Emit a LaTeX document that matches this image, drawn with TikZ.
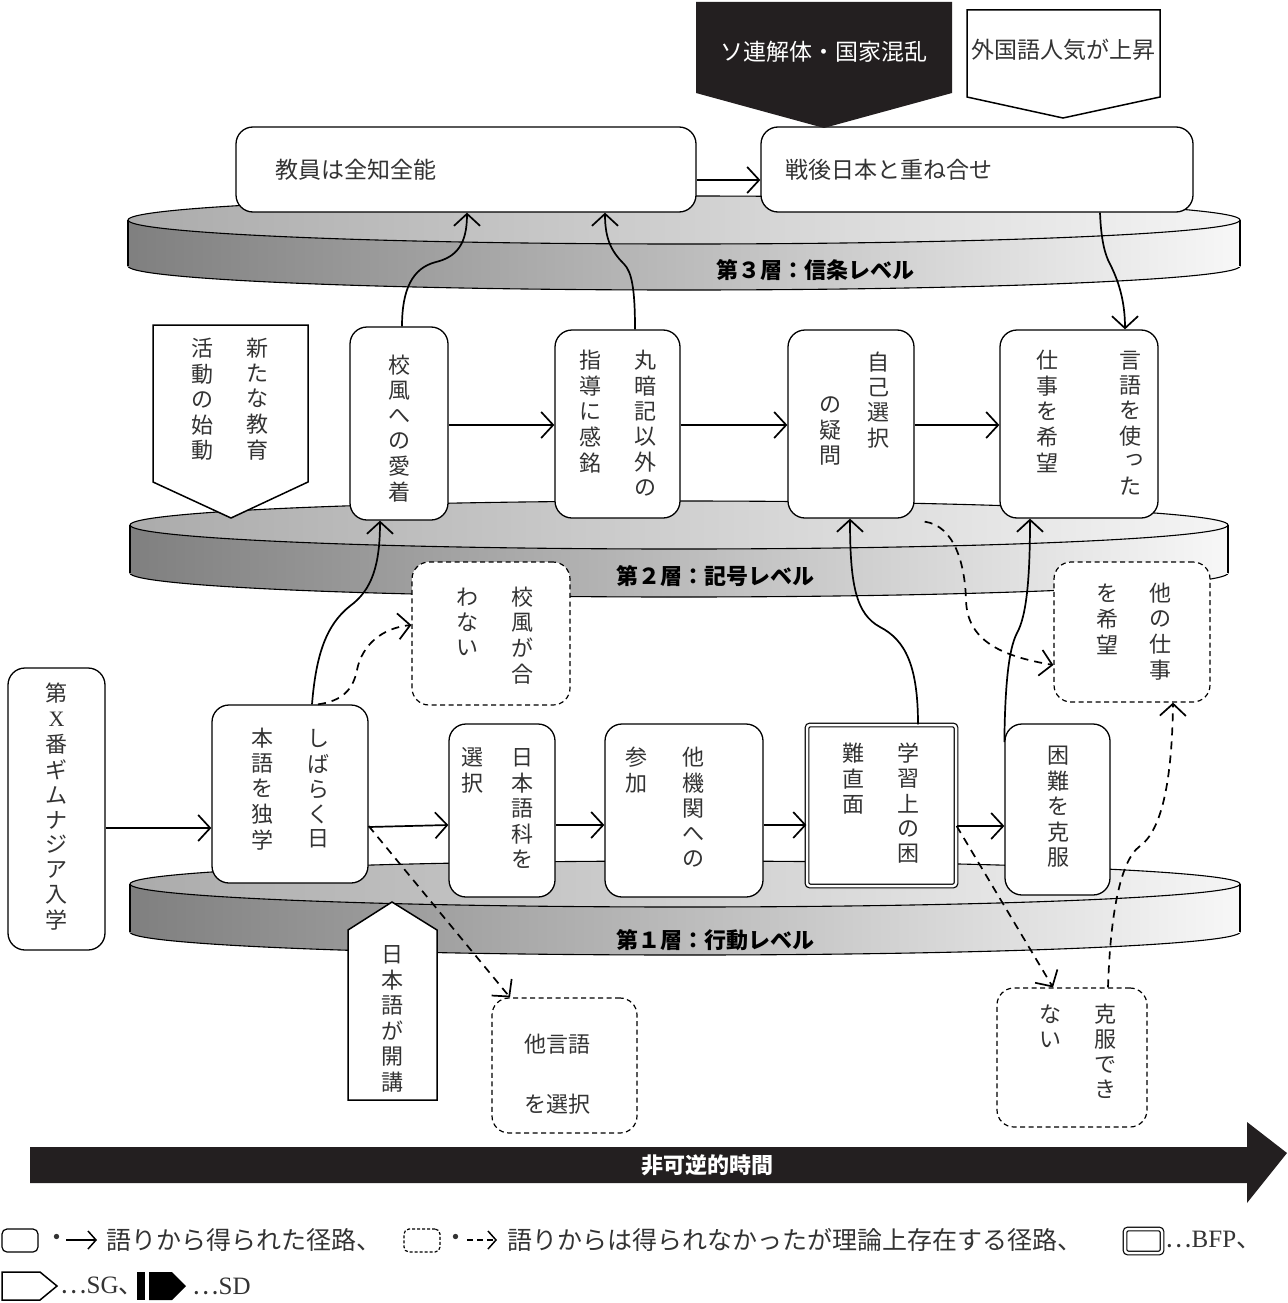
\documentclass[tikz,border=0pt]{standalone}
\usepackage{fontspec}
\setmainfont{Noto Sans CJK JP}
\newfontfamily\lat{Liberation Serif}
\usetikzlibrary{arrows.meta,calc}
\definecolor{txt}{HTML}{333333}
\definecolor{tlblack}{HTML}{231F20}
\newcommand\vc[1]{\begin{tabular}[t]{@{}c@{}}#1\end{tabular}}
\newcommand\myvf{\fontsize{22}{24.8}\selectfont}
\newcommand\myhf{\fontsize{23}{27}\selectfont}
\newcommand\mylf{\fontsize{25}{28}\selectfont}
\newcommand\mybf{\fontsize{22}{25}\selectfont\bfseries}
\newcommand\smalltsu{\makebox[0pt]{\hspace{8pt}\raisebox{4pt}{っ}}}
\newcommand\layerdisk[5]{%
  \shadedraw[band] (#1,#2+#5) ellipse [x radius=#3, y radius=#4];
  \shade[bandfill] (#1-#3,#2) rectangle (#1+#3,#2+#5);
  \draw[line width=1.1pt] (#1-#3,#2) -- (#1-#3,#2+#5) (#1+#3,#2) -- (#1+#3,#2+#5);
  \shadedraw[topface] (#1,#2) ellipse [x radius=#3, y radius=#4];
}
\begin{document}
\begin{tikzpicture}[x=1pt,y=-1pt,
  bandfill/.style={left color=black!50,right color=black!3},
  band/.style={bandfill,draw=black,line width=1.1pt},
  topface/.style={left color=black!33,right color=black!4,draw=black,line width=1.1pt},
  box/.style={draw=black,line width=1.3pt,fill=white,rounded corners=17pt,inner sep=0pt,text=txt},
  dbox/.style={box,dash pattern=on 5pt off 3.5pt,line width=1.2pt},
  bfp/.style={draw=black,line width=1.2pt,double=white,double distance=2.5pt,fill=white,rounded corners=3pt,inner sep=0pt},
  vt/.style={inner sep=0pt,text=txt,font=\myvf,anchor=north},
  arr/.style={line width=1.7pt,-{Straight Barb[length=12pt,width=26pt]}},
  darr/.style={arr,dash pattern=on 8pt off 6pt},
  lab/.style={font=\mybf,inner sep=0pt},
  sg/.style={draw=black,line width=1.5pt,fill=white,line join=miter},
  legbox/.style={draw=black,line width=1.2pt,fill=white,rounded corners=5pt,minimum width=36,minimum height=23,inner sep=0pt},
  legarr/.style={line width=1.5pt,-{Straight Barb[length=8pt,width=18pt]}},
  lt/.style={font=\mylf,anchor=west,inner sep=0pt,text=txt}
  ]
\useasboundingbox (0,0) rectangle (1287,1303);

% ---------- layers ----------
\layerdisk{684}{220}{556}{24}{46}
\layerdisk{679}{525}{549}{24}{48}
\layerdisk{685}{884}{555}{23}{48}
\node[lab] (l3) at (815,270) {第３層：信条レベル};
\node[lab] (l2) at (715,576) {第２層：記号レベル};
\node[lab] (l1) at (715,940) {第１層：行動レベル};

% ---------- top level ----------
\node[box,minimum width=460,minimum height=85,text width=382pt,align=left,inner xsep=39pt,font=\myhf] (kyoin) at (466,169.5) {教員は全知全能};
\node[box,minimum width=432,minimum height=85,text width=384pt,align=left,inner xsep=24pt,font=\myhf] (sengo) at (977,169.5) {戦後日本と重ね合せ};
\fill[tlblack] (696,2) -- (952,2) -- (952,93) -- (824,128) -- (696,93) -- cycle;
\node[font=\myhf,text=white] (t-soren) at (824,52) {ソ連解体・国家混乱};
\draw[sg] (967,10) -- (1160,10) -- (1160,97) -- (1063,118) -- (967,97) -- cycle;
\node[font=\myhf,text=txt] (t-gaikoku) at (1063,50) {外国語人気が上昇};

% ---------- second level ----------
\draw[sg] (153,325) -- (308,325) -- (308,482) -- (231,518) -- (153,482) -- cycle;
\node[vt] (t-shindo) at (229.5,338) {\vc{活\\動\\の\\始\\動}\hspace{33pt}\vc{新\\た\\な\\教\\育}};
\node[box,minimum width=98,minimum height=193] (kofu) at (399,423.5) {};
\node[vt] (t-kofu) at (399,355) {\vc{校\\風\\へ\\の\\愛\\着}};
\node[box,minimum width=125,minimum height=188] (maru) at (617.5,424) {};
\node[vt] (t-maru) at (617.5,350) {\vc{指\\導\\に\\感\\銘}\hspace{33pt}\vc{丸\\暗\\記\\以\\外\\の}};
\node[box,minimum width=126,minimum height=188] (jiko) at (851,424) {};
\node[vt] (t-jiko) at (854,352) {\raisebox{-42pt}{\vc{の\\疑\\問}}\hspace{26pt}\vc{自\\己\\選\\択}};
\node[box,minimum width=158,minimum height=188] (gengo) at (1079,424) {};
\node[vt] (t-gengo) at (1088.5,350) {\vc{仕\\事\\を\\希\\望}\hspace{61pt}\vc{言\\語\\を\\使\\\smalltsu\\た}};

% ---------- dashed middle ----------
\node[dbox,minimum width=158,minimum height=143] (awanai) at (491,633.5) {};
\node[vt] (t-awanai) at (494.5,587) {\vc{わ\\な\\い}\hspace{33pt}\vc{校\\風\\が\\合}};
\node[dbox,minimum width=156,minimum height=140] (hokashigoto) at (1132,632) {};
\node[vt] (t-hokashigoto) at (1133.5,583) {\vc{を\\希\\望}\hspace{31pt}\vc{他\\の\\仕\\事}};

% ---------- first level ----------
\node[box,minimum width=97,minimum height=282] (gym) at (56.5,809) {};
\node[vt] (t-gym) at (56.5,683) {\vc{第\\{\lat X}\\番\\ギ\\ム\\ナ\\ジ\\ア\\入\\学}};
\node[box,minimum width=156,minimum height=178] (dokugaku) at (290,794) {};
\node[vt] (t-dokugaku) at (290,728) {\vc{本\\語\\を\\独\\学}\hspace{34pt}\vc{し\\ば\\ら\\く\\日}};
\node[box,minimum width=106,minimum height=173] (nihongoka) at (502,810.5) {};
\node[vt] (t-nihongoka) at (497,747) {\vc{選\\択}\hspace{28pt}\vc{日\\本\\語\\科\\を}};
\node[box,minimum width=158,minimum height=173] (takikan) at (684,810.5) {};
\node[vt] (t-takikan) at (664.5,747) {\vc{参\\加}\hspace{35pt}\vc{他\\機\\関\\へ\\の}};
\node[bfp,minimum width=149,minimum height=161] (gakushu) at (881.5,805.5) {};
\node[vt] (t-gakushu) at (880.5,743) {\vc{難\\直\\面}\hspace{33pt}\vc{学\\習\\上\\の\\困}};
\node[box,minimum width=105,minimum height=171] (kokufuku) at (1057.5,809.5) {};
\node[vt] (t-kokufuku) at (1058,746) {\vc{困\\難\\を\\克\\服}};

% ---------- bottom ----------
\draw[sg] (392,902) -- (437,930) -- (437,1100) -- (348,1100) -- (348,930) -- cycle;
\node[vt] (t-kaiko) at (392,945) {\vc{日\\本\\語\\が\\開\\講}};
\node[dbox,minimum width=145,minimum height=135] (tagengo) at (564.5,1065.5) {};
\node[inner sep=0pt,text=txt,font=\myvf] (t-tagengo) at (557,1077) {\begin{tabular}{@{}c@{}}他言語\\[35pt]を選択\end{tabular}};
\node[dbox,minimum width=150,minimum height=139] (dekinai) at (1072,1057.5) {};
\node[vt] (t-dekinai) at (1077.5,1004) {\vc{な\\い}\hspace{33pt}\vc{克\\服\\で\\き}};

% ---------- connectors ----------
\draw[arr] (kyoin.east |- 0,180) -- (sengo.west |- 0,180);
\draw[arr] (kofu.east |- 0,425) -- (maru.west |- 0,425);
\draw[arr] (maru.east |- 0,425) -- (jiko.west |- 0,425);
\draw[arr] (jiko.east |- 0,425) -- (gengo.west |- 0,425);
\draw[arr] (gym.east |- 0,828) -- (dokugaku.west |- 0,828);
\draw[arr] (dokugaku.east |- 0,827) -- (nihongoka.west |- 0,825);
\draw[arr] (nihongoka.east |- 0,825) -- (takikan.west |- 0,825);
\draw[arr] (takikan.east |- 0,825) -- (gakushu.west |- 0,825);
\draw[arr] (gakushu.east |- 0,826) -- (kokufuku.west |- 0,826);

\draw[arr] (402,0 |- kofu.north) .. controls (402,290) and (412,268) .. (436,262) .. controls (456,257) and (467,245) .. (467,0 |- kyoin.south);
\draw[arr] (635,0 |- maru.north) .. controls (635,290) and (632,272) .. (624,264) .. controls (612,252) and (605,240) .. (605,0 |- kyoin.south);
\draw[arr] (1100,0 |- sengo.south) .. controls (1101,240) and (1105,255) .. (1110,264) .. controls (1118,280) and (1125,300) .. (1125,0 |- gengo.north);
\draw[arr] (312,0 |- dokugaku.north) .. controls (316,655) and (326,625) .. (350,606) .. controls (372,590) and (380,565) .. (380,0 |- kofu.south);
\draw[arr] (918,0 |- gakushu.north) .. controls (918,665) and (905,640) .. (880,627) .. controls (856,614) and (850,585) .. (850,0 |- jiko.south);
\draw[arr] (kokufuku.west |- 0,742) .. controls (1005,690) and (1008,650) .. (1017,633) .. controls (1027,615) and (1030,575) .. (1030,0 |- gengo.south);

\draw[darr] (318,0 |- dokugaku.north) .. controls (342,701) and (353,690) .. (357,670) .. controls (362,645) and (382,628) .. (awanai.west |- 0,625);
\draw[darr] (dokugaku.east |- 0,826) -- (510,0 |- tagengo.north);
\draw[darr] ([xshift=10pt,yshift=-3pt]jiko.south east) .. controls (955,526) and (965,565) .. (966,600) .. controls (967,640) and (1000,656) .. (hokashigoto.west |- 0,665);
\draw[darr] (gakushu.east |- 0,826) -- (1053,0 |- dekinai.north);
\draw[darr] (1108,0 |- dekinai.north) .. controls (1110,925) and (1118,862) .. (1140,846) .. controls (1162,830) and (1172,780) .. (1173,0 |- hokashigoto.south);

% ---------- time arrow ----------
\fill[tlblack] (30,1147) -- (1247,1147) -- (1247,1122) -- (1287,1153) -- (1247,1203) -- (1247,1183) -- (30,1183) -- cycle;
\node[font=\mybf,text=white] (t-time) at (707,1165) {非可逆的時間};

% ---------- legend ----------
\node[legbox] (lg-box1) at (20,1240.5) {};
\node[lt] (lg-dot1) at (44,1240) {・};
\coordinate (lg-a1) at (66,1240);
\coordinate (lg-a2) at (97,1240);
\draw[legarr] (lg-a1) -- (lg-a2);
\node[lt] (lg-t1) at (106,1240) {語りから得られた径路、};
\node[legbox,dash pattern=on 3pt off 2pt] (lg-box2) at (422,1240.5) {};
\node[lt] (lg-dot2) at (443,1240) {・};
\coordinate (lg-a3) at (467,1240);
\coordinate (lg-a4) at (497,1240);
\draw[legarr,dash pattern=on 6pt off 4pt] (lg-a3) -- (lg-a4);
\node[lt] (lg-t2) at (507,1240) {語りからは得られなかったが理論上存在する径路、};
\node[bfp,minimum width=37,minimum height=24] (lg-box3) at (1143.5,1241) {};
\node[lt] (lg-t3) at (1165,1240) {…{\lat BFP}、};
\draw[sg] (2,1272) -- (40,1272) -- (57,1286) -- (40,1300) -- (2,1300) -- cycle;
\node[lt] (lg-t4) at (60,1286) {…{\lat SG}、};
\fill[black] (137,1272) rectangle (145,1300);
\fill[black] (149,1272) -- (172,1272) -- (186,1286) -- (172,1300) -- (149,1300) -- cycle;
\node[lt] (lg-t5) at (192,1286) {…{\lat SD}};
\end{tikzpicture}
\end{document}
